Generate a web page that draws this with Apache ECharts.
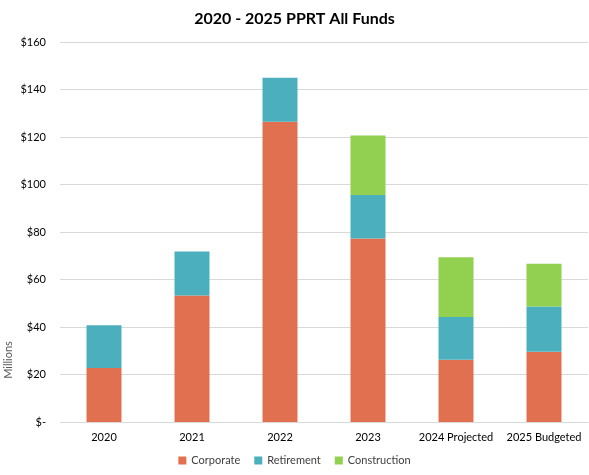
<!DOCTYPE html>
<html>
<head>
<meta charset="utf-8">
<script src="https://cdn.jsdelivr.net/npm/echarts@6/dist/echarts.min.js"></script>
<style>
  html, body { margin: 0; padding: 0; background: #fff; }
  #main { width: 589px; height: 475px; }
</style>
</head>
<body>
<div id="main"></div>
<script>
// values in millions
var categories = ["2020", "2021", "2022", "2023", "2024 Projected", "2025 Budgeted"];
var corporate = [22.7, 53.3, 126.4, 77.3, 26.2, 29.6];
var retirement = [18.0, 18.5, 18.6, 18.3, 18.0, 19.0];
var construction = [0, 0, 0, 25.0, 25.2, 18.0];
var yTicks = [0, 20, 40, 60, 80, 100, 120, 140, 160];

var font = "Lato, 'Open Sans', sans-serif";
var myChart = echarts.init(document.getElementById("main"));

function bar(name, data, color) {
  return {
    name: name,
    type: "bar",
    stack: "total",
    barWidth: 35,
    data: data,
    itemStyle: { color: color },
  };
}

var option = {
  animation: false,
  textStyle: { fontFamily: font },
  title: {
    text: "2020 - 2025 PPRT All Funds",
    left: "center",
    top: 6,
    textStyle: { fontSize: 16, fontWeight: "bold", color: "#000", fontFamily: font },
  },
  legend: {
    bottom: 4,
    left: "center",
    itemWidth: 8,
    itemHeight: 8,
    itemGap: 14,
    icon: "rect",
    textStyle: { fontSize: 11, color: "#404040", fontFamily: font },
    data: ["Corporate", "Retirement", "Construction"],
  },
  grid: {
    left: 60,
    right: 1,
    top: 42,
    bottom: 53,
  },
  xAxis: {
    type: "category",
    data: categories,
    axisTick: { show: false },
    axisLine: { lineStyle: { color: "#d9d9d9" } },
    axisLabel: { color: "#000", fontSize: 11, margin: 10, interval: 0 },
  },
  yAxis: {
    type: "value",
    min: yTicks[0],
    max: yTicks[yTicks.length - 1],
    interval: 20,
    axisLine: { show: false },
    axisTick: { show: false },
    splitLine: { lineStyle: { color: "#d9d9d9" } },
    axisLabel: {
      color: "#000",
      fontSize: 11,
      margin: 14,
      formatter: function (v) {
        return v === 0 ? "$-" : "$" + v;
      },
    },
  },
  graphic: [
    {
      type: "text",
      x: 8,
      y: 360,
      rotation: Math.PI / 2,
      style: {
        text: "Millions",
        fill: "#595959",
        font: "11px " + font,
        textAlign: "center",
        textVerticalAlign: "middle",
      },
    },
  ],
  series: [
    bar("Corporate", corporate, "#e07050"),
    bar("Retirement", retirement, "#4bafbe"),
    bar("Construction", construction, "#92d050"),
  ],
};
myChart.setOption(option);
</script>
</body>
</html>
